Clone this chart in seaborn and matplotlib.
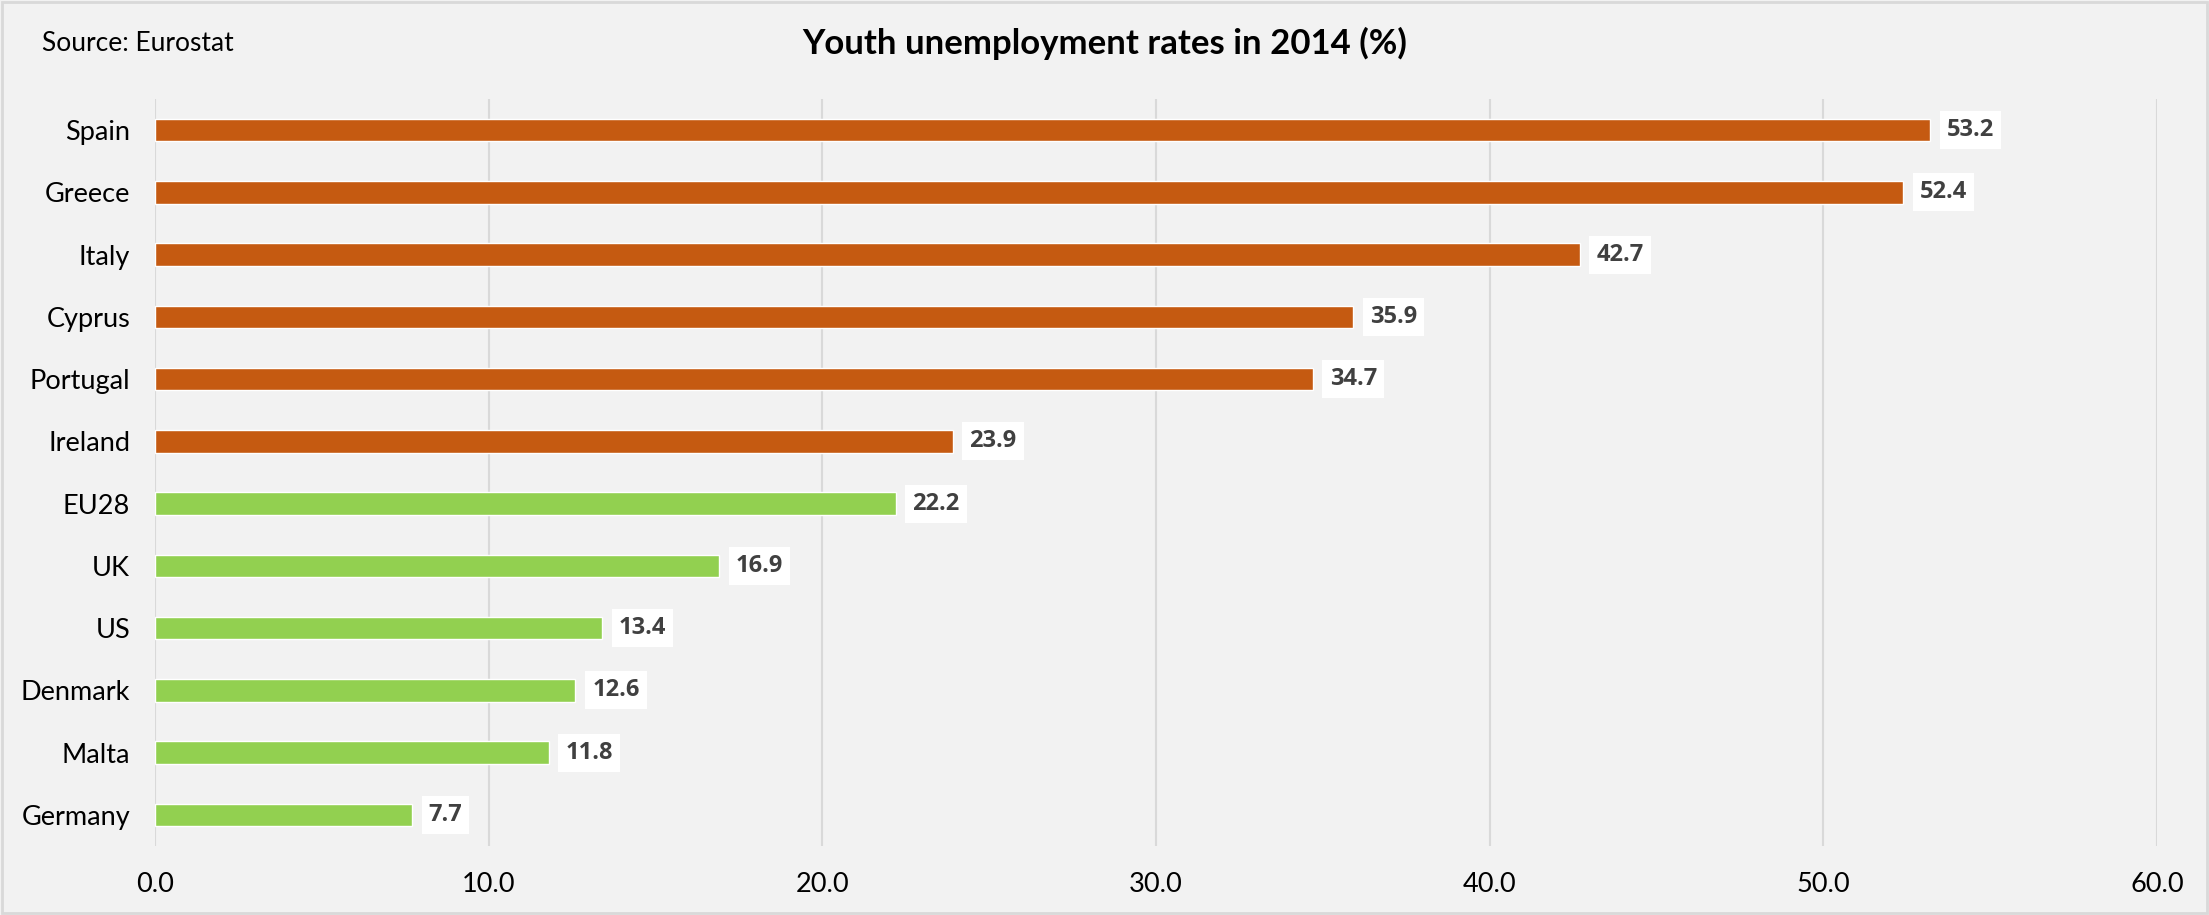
import matplotlib
matplotlib.use("Agg")
import matplotlib.pyplot as plt
import seaborn as sns
import pandas as pd

countries = ["Spain", "Greece", "Italy", "Cyprus", "Portugal", "Ireland",
             "EU28", "UK", "US", "Denmark", "Malta", "Germany"]
rates = [53.2, 52.4, 42.7, 35.9, 34.7, 23.9, 22.2, 16.9, 13.4, 12.6, 11.8, 7.7]
groups = ["high"] * 6 + ["low"] * 6
palette = {"high": "#C55A11", "low": "#92D050"}
x_ticks = [0, 10, 20, 30, 40, 50, 60]

df = pd.DataFrame({"country": countries, "rate": rates, "group": groups})

sns.set_theme(style="white")
plt.rcParams["font.family"] = ["Lato", "DejaVu Sans"]

BG = "#F2F2F2"
fig = plt.figure(figsize=(22.09, 9.15), dpi=100, facecolor=BG)
ax = fig.add_axes([0.0702, 0.0754, 0.9063, 0.8164])
ax.set_facecolor(BG)

sns.barplot(data=df, y="country", x="rate", hue="group", palette=palette,
            order=countries, orient="h", width=0.36, dodge=False,
            legend=False, ax=ax, saturation=1)

ax.set_xlim(0, 60)
ax.set_ylim(len(countries) - 0.5, -0.5)
ax.set_xticks(x_ticks)
ax.set_xticklabels([f"{t:.1f}" for t in x_ticks])
ax.xaxis.grid(True, color="#D9D9D9", linewidth=1.5)
ax.set_axisbelow(True)
for s in ax.spines.values():
    s.set_visible(False)
ax.tick_params(axis="both", length=0, labelsize=19.5, colors="#000000")
ax.tick_params(axis="y", pad=18)
ax.tick_params(axis="x", pad=19)
ax.set_xlabel("")
ax.set_ylabel("")

for i, v in enumerate(rates):
    ax.annotate(f"{v:.1f}", xy=(v, i), xytext=(12, 0), textcoords="offset points",
                ha="left", va="center", fontsize=17, fontweight="bold",
                family=["Open Sans", "DejaVu Sans"],
                color="#404040",
                bbox=dict(boxstyle="square,pad=0.3", facecolor="white",
                          edgecolor="none"))

fig.text(0.5, 0.952, "Youth unemployment rates in 2014 (%)", ha="center",
         va="center", fontsize=25, fontweight="bold", color="#000000")
fig.text(0.019, 0.952, "Source: Eurostat", ha="left", va="center",
         fontsize=19, color="#000000")

border = plt.Rectangle((0.001, 0.002), 0.998, 0.996, transform=fig.transFigure,
                       fill=False, edgecolor="#D9D9D9", linewidth=2)
fig.patches.append(border)

fig.savefig("out.png", dpi=100, facecolor=BG)
